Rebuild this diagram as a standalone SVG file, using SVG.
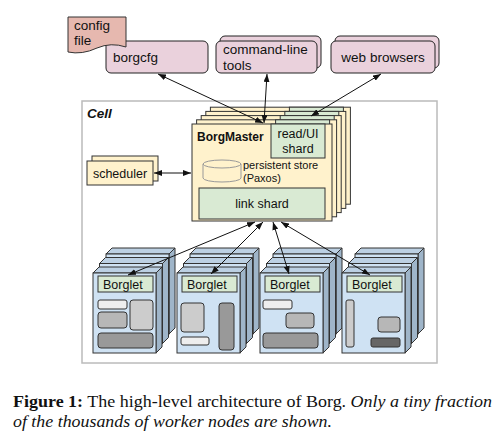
<svg xmlns="http://www.w3.org/2000/svg" width="500" height="441" viewBox="0 0 500 441">
<defs>
<style>
.t{font-family:"Liberation Sans",Arial,sans-serif;fill:#111}
.pink{fill:#ead1dc;stroke:#222;stroke-width:1}
.ym{fill:#fff2cc;stroke:#333;stroke-width:1}
.gr{fill:#d9ead3;stroke:#333;stroke-width:1}
.ff{fill:#cfe2f3;stroke:#333;stroke-width:1}
.tf{fill:#bcd0e3;stroke:#333;stroke-width:1}
.rf{fill:#9fb5c9;stroke:#333;stroke-width:1}
.c1{fill:#eeeeee;stroke:#333;stroke-width:1}
.c2{fill:#cccccc;stroke:#333;stroke-width:1}
.c3{fill:#b7b7b7;stroke:#333;stroke-width:1}
.c4{fill:#999999;stroke:#333;stroke-width:1}
.c5{fill:#666666;stroke:#333;stroke-width:1}
.ln{stroke:#111;stroke-width:1;fill:none;marker-end:url(#ah);marker-start:url(#ah)}
.cap{font-family:"Liberation Serif","Times New Roman",serif;font-size:17px;fill:#111}
</style>
<marker id="ah" viewBox="0 0 8 6" refX="8" refY="3" markerWidth="8" markerHeight="6" markerUnits="userSpaceOnUse" orient="auto-start-reverse">
<path d="M0,0 L8,3 L0,6 z" fill="#111"/>
</marker>
<g id="wbox">
<polygon class="tf" points="0,0 6,-6 69,-6 63,0"/>
<polygon class="rf" points="63,0 69,-6 69,74 63,80"/>
<rect class="ff" x="0" y="0" width="63" height="80"/>
</g>
<g id="bmback">
<rect class="ym" x="0" y="0" width="140" height="97"/>
<rect class="gr" x="79" y="0" width="54" height="34"/>
</g>
</defs>
<rect width="500" height="441" fill="#fff"/>

<rect x="82" y="101" width="355" height="262" fill="#fff" stroke="#bbb" stroke-width="1.5"/>
<text class="t" x="87" y="118" font-size="13.5" font-weight="bold" font-style="italic">Cell</text>

<g id="borgcfg">
<rect class="pink" x="106" y="41" width="102" height="32" rx="5"/>
<text class="t" x="113" y="61.5" font-size="13.5">borgcfg</text>
</g>
<g id="config-file">
<path d="M68,17 H126 V47 Q111,42 97,48 Q82,55 68,52 Z" fill="#e6b8af" stroke="#333" stroke-width="1"/>
<text class="t" x="74" y="30" font-size="13.5">config</text>
<text class="t" x="74" y="45" font-size="13.5">file</text>
</g>
<g id="command-line-tools">
<rect class="pink" x="220" y="36" width="101" height="32" rx="5"/>
<rect class="pink" x="216" y="41" width="101" height="32" rx="5"/>
<text class="t" x="223" y="54" font-size="13.5">command-line</text>
<text class="t" x="223" y="69.5" font-size="13.5">tools</text>
</g>
<g id="web-browsers">
<rect class="pink" x="335" y="36" width="104" height="32" rx="5"/>
<rect class="pink" x="331" y="41" width="104" height="32" rx="5"/>
<text class="t" x="383" y="61.5" font-size="13.5" text-anchor="middle">web browsers</text>
</g>

<g id="scheduler">
<rect class="ym" x="92" y="156" width="66" height="25"/>
<rect class="ym" x="87" y="161" width="66" height="24"/>
<text class="t" x="120" y="178" font-size="12.5" text-anchor="middle">scheduler</text>
</g>

<g id="borgmaster">
<use href="#bmback" x="210.4" y="107.2"/>
<use href="#bmback" x="205.8" y="111.4"/>
<use href="#bmback" x="201.2" y="115.6"/>
<use href="#bmback" x="196.6" y="119.8"/>
<rect class="ym" x="192" y="124" width="140" height="97"/>
<rect class="gr" x="271" y="124" width="54" height="34"/>
<text class="t" x="197" y="141" font-size="12" font-weight="bold">BorgMaster</text>
<text class="t" x="298" y="138" font-size="12.5" text-anchor="middle">read/UI</text>
<text class="t" x="298" y="153" font-size="12.5" text-anchor="middle">shard</text>
<path d="M203,164 V178 A19,4 0 0 0 241,178 V164" fill="#fff2cc" stroke="#999" stroke-width="1"/>
<ellipse cx="222" cy="164" rx="19" ry="4" fill="#fff2cc" stroke="#999" stroke-width="1"/>
<text class="t" x="243" y="169" font-size="11">persistent store</text>
<text class="t" x="243" y="182" font-size="11">(Paxos)</text>
<rect class="gr" x="199" y="188" width="126" height="31"/>
<text class="t" x="262" y="208" font-size="12.5" text-anchor="middle">link shard</text>
</g>

<g id="borglet-1">
<use href="#wbox" x="106" y="254"/>
<use href="#wbox" x="99.5" y="263.5"/>
<use href="#wbox" x="93" y="273"/>
<rect class="gr" x="98" y="276" width="55" height="16"/>
<text class="t" x="103" y="288.5" font-size="12.5">Borglet</text>
<rect class="c1" x="98" y="300" width="29" height="9" rx="2"/>
<rect class="c3" x="98" y="312" width="29" height="16" rx="3"/>
<rect class="c2" x="130" y="300" width="23" height="30" rx="3"/>
<rect class="c4" x="98" y="333" width="55" height="15" rx="3"/>
</g>
<g id="borglet-2">
<use href="#wbox" x="190" y="254"/>
<use href="#wbox" x="183.5" y="263.5"/>
<use href="#wbox" x="177" y="273"/>
<rect class="gr" x="182" y="276" width="55" height="16"/>
<text class="t" x="187" y="288.5" font-size="12.5">Borglet</text>
<rect class="c2" x="181" y="303" width="23" height="29" rx="3"/>
<rect class="c1" x="181" y="337" width="28" height="8" rx="2"/>
<rect class="c4" x="219" y="303" width="15" height="47" rx="3"/>
</g>
<g id="borglet-3">
<use href="#wbox" x="273" y="254"/>
<use href="#wbox" x="266.5" y="263.5"/>
<use href="#wbox" x="260" y="273"/>
<rect class="gr" x="265" y="276" width="55" height="16"/>
<text class="t" x="270" y="288.5" font-size="12.5">Borglet</text>
<rect class="c1" x="263" y="300" width="29" height="9" rx="2"/>
<rect class="c3" x="286" y="313" width="28" height="15" rx="3"/>
<rect class="c4" x="263" y="333" width="55" height="15" rx="3"/>
</g>
<g id="borglet-4">
<use href="#wbox" x="355" y="254"/>
<use href="#wbox" x="348.5" y="263.5"/>
<use href="#wbox" x="342" y="273"/>
<rect class="gr" x="347" y="276" width="55" height="16"/>
<text class="t" x="352" y="288.5" font-size="12.5">Borglet</text>
<rect class="c2" x="346" y="300" width="8" height="47" rx="2"/>
<rect class="c3" x="378" y="317" width="22" height="15" rx="3"/>
<rect class="c5" x="371" y="338" width="29" height="9" rx="2"/>
</g>

<g id="connectors">
<line class="ln" x1="158" y1="74" x2="263" y2="123"/>
<line class="ln" x1="267" y1="74" x2="264" y2="123"/>
<line class="ln" x1="381" y1="74" x2="311" y2="116"/>
<line class="ln" x1="154" y1="173" x2="191" y2="173"/>
<line class="ln" x1="255" y1="222" x2="128" y2="275"/>
<line class="ln" x1="263" y1="222" x2="211" y2="274"/>
<line class="ln" x1="273" y1="222" x2="289" y2="274"/>
<line class="ln" x1="281" y1="222" x2="370" y2="275"/>
</g>

<text class="cap" x="13" y="407" textLength="479" lengthAdjust="spacingAndGlyphs"><tspan font-weight="bold">Figure 1:</tspan> The high-level architecture of Borg. <tspan font-style="italic">Only a tiny fraction</tspan></text>
<text class="cap" x="13" y="427" font-style="italic" textLength="319" lengthAdjust="spacingAndGlyphs">of the thousands of worker nodes are shown.</text>
</svg>
